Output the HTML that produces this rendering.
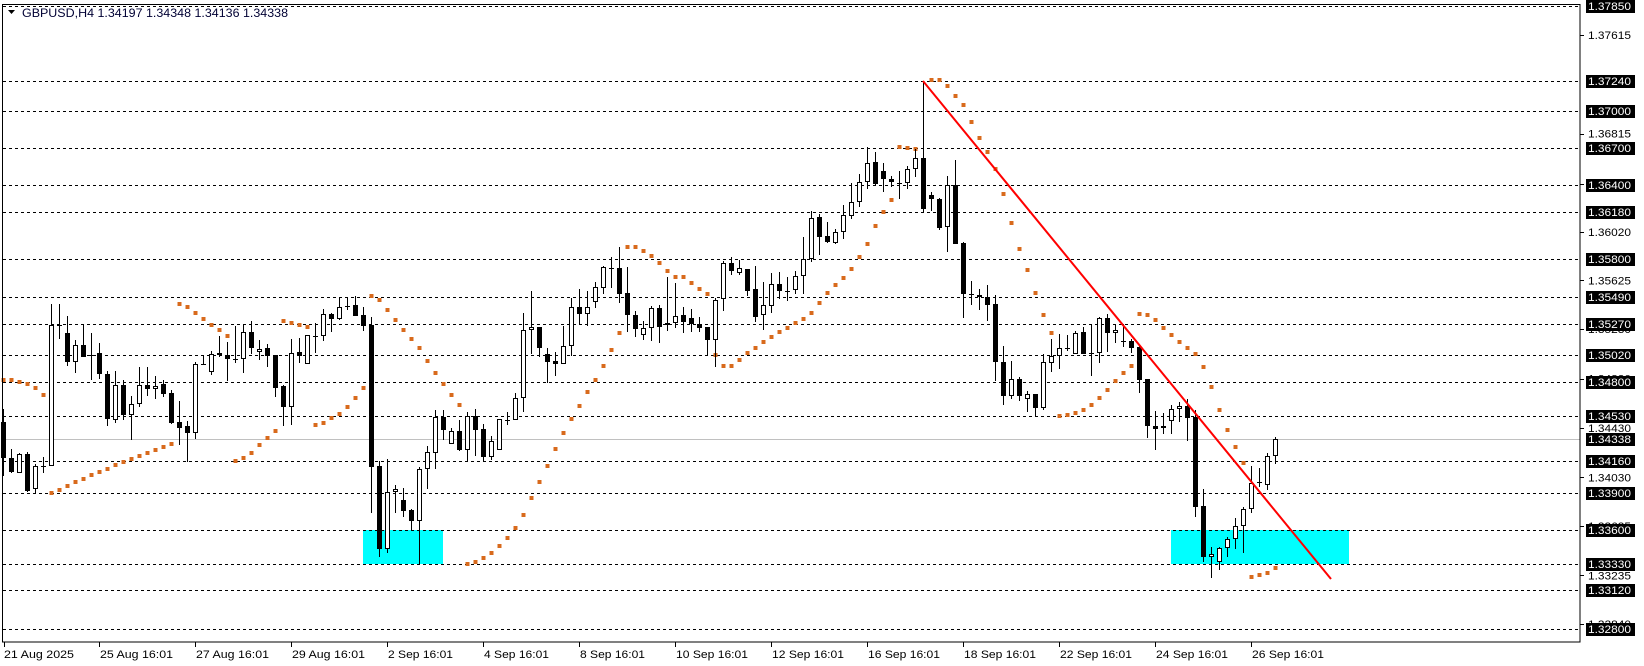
<!DOCTYPE html>
<html><head><meta charset="utf-8"><style>
html,body{margin:0;padding:0;background:#fff;}
svg{display:block;}
text{font-family:"Liberation Sans",sans-serif;}
</style></head><body>
<svg id="c" width="1644" height="666" viewBox="0 0 1644 666" xmlns="http://www.w3.org/2000/svg">
<rect x="0" y="0" width="1644" height="666" fill="#fff"/>
<rect x="363" y="530" width="80" height="34" fill="#00ffff"/>
<rect x="1171" y="530" width="178" height="34" fill="#00ffff"/>
<g id="grid" stroke="#000" stroke-width="1" stroke-dasharray="3,3" shape-rendering="crispEdges"></g>
<line x1="3" y1="439.5" x2="1580" y2="439.5" stroke="#c0c0c0" stroke-width="1"/>
<g id="dots" fill="#d86a1c"></g>
<g id="candles" shape-rendering="crispEdges"></g>
<line x1="923" y1="81" x2="1331" y2="579" stroke="#ff0000" stroke-width="2"/>
<rect x="2.5" y="4.5" width="1577.5" height="637.5" fill="none" stroke="#000" stroke-width="1" shape-rendering="crispEdges"/>
<polygon points="8,10 15,10 11.5,14" fill="#000"/>
<text x="22" y="17" font-size="12" fill="#000033" textLength="266" lengthAdjust="spacingAndGlyphs">GBPUSD,H4  1.34197 1.34348 1.34136 1.34338</text>
<g id="plain" font-size="11" fill="#000"></g>
<g id="boxes" font-size="11"></g>
<g id="dates" font-size="11" fill="#000">
<text x="4" y="658" textLength="70" lengthAdjust="spacingAndGlyphs">21 Aug 2025</text>
<text x="100" y="658" textLength="73" lengthAdjust="spacingAndGlyphs">25 Aug 16:01</text>
<text x="196" y="658" textLength="73" lengthAdjust="spacingAndGlyphs">27 Aug 16:01</text>
<text x="292" y="658" textLength="73" lengthAdjust="spacingAndGlyphs">29 Aug 16:01</text>
<text x="388" y="658" textLength="65" lengthAdjust="spacingAndGlyphs">2 Sep 16:01</text>
<text x="484" y="658" textLength="65" lengthAdjust="spacingAndGlyphs">4 Sep 16:01</text>
<text x="580" y="658" textLength="65" lengthAdjust="spacingAndGlyphs">8 Sep 16:01</text>
<text x="676" y="658" textLength="72" lengthAdjust="spacingAndGlyphs">10 Sep 16:01</text>
<text x="772" y="658" textLength="72" lengthAdjust="spacingAndGlyphs">12 Sep 16:01</text>
<text x="868" y="658" textLength="72" lengthAdjust="spacingAndGlyphs">16 Sep 16:01</text>
<text x="964" y="658" textLength="72" lengthAdjust="spacingAndGlyphs">18 Sep 16:01</text>
<text x="1060" y="658" textLength="72" lengthAdjust="spacingAndGlyphs">22 Sep 16:01</text>
<text x="1156" y="658" textLength="72" lengthAdjust="spacingAndGlyphs">24 Sep 16:01</text>
<text x="1252" y="658" textLength="72" lengthAdjust="spacingAndGlyphs">26 Sep 16:01</text>
</g>
<g id="ticks" stroke="#000" stroke-width="1" shape-rendering="crispEdges"></g>
</svg>
<script>
var NS="http://www.w3.org/2000/svg";
function el(p,t,a){var e=document.createElementNS(NS,t);for(var k in a)e.setAttribute(k,a[k]);p.appendChild(e);return e;}
function Y(p){return 6+(1.3785-p)*12337;}
var levels=["1.37850","1.37240","1.37000","1.36700","1.36400","1.36180","1.35800","1.35490","1.35270","1.35020","1.34800","1.34530","1.34160","1.33900","1.33600","1.33330","1.33120","1.32800"];
var plain=["1.37615","1.36815","1.36410","1.36020","1.35625","1.35230","1.34830","1.34430","1.34030","1.33635","1.33235","1.32840"];
var g=document.getElementById("grid"),pl=document.getElementById("plain"),bx=document.getElementById("boxes"),tk=document.getElementById("ticks");
levels.forEach(function(s){var y=Math.round(Y(+s))+0.5;el(g,"line",{x1:3,y1:y,x2:1580,y2:y});});
plain.forEach(function(s){var y=Y(+s);var t=el(pl,"text",{x:1588,y:y+4,textLength:43,lengthAdjust:"spacingAndGlyphs"});t.textContent=s;el(tk,"line",{x1:1580,y1:Math.round(y)+0.5,x2:1584,y2:Math.round(y)+0.5});});
levels.concat(["1.34338"]).forEach(function(s){var y=Y(+s);el(bx,"rect",{x:1586,y:Math.round(y)-6,width:49,height:13,fill:"#000"});var t=el(bx,"text",{x:1588,y:Math.round(y)+4,fill:"#fff",textLength:43,lengthAdjust:"spacingAndGlyphs"});t.textContent=s;});
[4,99,195,291,387,483,579,675,771,867,963,1059,1155,1251].forEach(function(x){el(tk,"line",{x1:x+0.5,y1:642,x2:x+0.5,y2:647});});
var C=[[409,476,422,458],[449,473,458,472],[453,473,473,454],[452,492,454,491],[464,493,489,466],[457,473,466,466],[304,466,466,325],[304,339,325,325],[316,366,333,362],[340,373,362,345],[324,357,345,357],[333,380,355,355],[343,379,353,374],[371,426,374,419],[371,423,420,385],[380,420,385,415],[396,440,415,404],[367,407,404,385],[367,396,385,389],[376,399,389,386],[380,397,384,394],[390,424,393,423],[401,445,422,428],[421,462,426,433],[362,439,433,364],[355,364,364,364],[351,375,372,354],[336,357,353,355],[342,381,355,359],[326,363,359,359],[324,373,359,332],[321,354,332,348],[340,360,352,349],[344,367,348,356],[355,397,355,388],[385,426,386,407],[339,425,407,353],[338,363,352,356],[335,364,364,335],[323,353,336,336],[309,341,336,314],[313,332,314,319],[297,320,319,307],[297,310,306,306],[296,316,305,316],[307,331,315,326],[317,513,325,467],[461,557,466,549],[459,553,549,492],[485,513,492,489],[488,517,500,511],[509,530,510,521],[467,565,521,469],[446,489,469,452],[410,469,453,417],[410,440,417,430],[428,444,444,431],[420,451,431,450],[412,462,450,416],[409,456,416,430],[424,462,429,457],[436,460,457,441],[419,450,450,419],[412,425,420,420],[393,420,420,398],[313,412,398,330],[291,354,330,327],[327,357,327,348],[348,383,354,362],[352,376,361,364],[326,364,364,346],[298,356,346,307],[289,325,307,314],[291,326,314,307],[282,308,302,287],[266,294,288,267],[257,288,268,268],[247,303,268,294],[267,332,293,315],[311,337,315,329],[321,340,335,328],[306,341,328,308],[305,343,308,327],[277,331,325,323],[283,328,323,316],[307,333,315,322],[309,332,318,324],[317,332,324,328],[327,356,327,340],[298,367,340,300],[261,311,299,263],[257,275,263,271],[260,275,273,268],[269,296,269,291],[266,322,289,317],[282,330,315,305],[273,313,306,284],[272,299,284,291],[277,301,291,291],[271,294,290,276],[237,294,276,259],[211,262,259,218],[214,255,217,237],[222,243,236,242],[229,244,243,232],[205,239,232,215],[183,219,216,202],[174,207,202,182],[147,189,182,163],[152,185,162,184],[163,192,171,179],[176,187,179,182],[171,199,183,183],[166,189,183,169],[149,177,169,158],[81,212,158,209],[192,211,195,199],[198,230,199,228],[176,252,227,185],[160,244,185,244],[242,318,243,294],[281,305,294,294],[289,310,295,297],[285,321,297,305],[295,381,304,362],[346,405,362,396],[361,399,396,379],[377,401,379,396],[391,412,399,394],[394,417,394,408],[354,410,408,362],[339,372,363,356],[334,369,356,348],[335,351,348,348],[331,354,354,333],[327,354,332,354],[324,376,353,353],[317,363,353,318],[314,352,318,333],[324,343,333,330],[324,347,341,341],[339,353,341,348],[345,393,347,380],[379,438,379,426],[411,450,426,429],[413,434,426,428],[405,434,421,409],[402,422,409,406],[399,441,406,418],[410,517,417,507],[489,562,506,557],[547,578,557,554],[547,570,562,548],[537,557,548,539],[518,549,539,526],[507,553,526,509],[466,513,509,483],[468,487,482,482],[453,490,485,456],[437,464,456,439]];
var cg=document.getElementById("candles");
C.forEach(function(c,k){var x=3+8*k;el(cg,"line",{x1:x+0.5,y1:c[0],x2:x+0.5,y2:c[1],stroke:"#000","stroke-width":1});
var t=Math.min(c[2],c[3]),b=Math.max(c[2],c[3]);
if(b-t<1){el(cg,"rect",{x:x-2,y:t,width:5,height:1,fill:"#000"});}
else if(c[2]<c[3]){el(cg,"rect",{x:x-2,y:t,width:5,height:b-t,fill:"#000"});}
else{el(cg,"rect",{x:x-1.5,y:t+0.5,width:4,height:b-t-1,fill:"#fff",stroke:"#000","stroke-width":1});}});
var D=[380,380,382,384,388,395,493,490,486,482,479,475,472,469,465,462,459,456,453,450,447,444,304,307,313,319,325,330,336,461,458,453,445,438,431,321,323,325,327,425,423,418,414,407,398,388,296,300,310,320,330,339,348,361,373,384,395,405,564,562,558,553,546,538,528,515,498,482,466,449,433,419,406,392,380,366,350,333,247,247,251,256,263,271,277,277,283,289,294,355,366,366,360,353,348,342,337,332,328,323,319,313,303,293,285,278,269,257,244,226,212,200,147,148,149,199,80,80,86,96,105,122,138,152,169,194,223,249,270,293,315,333,416,415,413,410,405,398,390,381,373,366,314,315,320,328,335,342,348,354,367,387,410,430,447,463,577,575,573,568];
var dg=document.getElementById("dots");
D.forEach(function(y,k){var x=3+8*k;el(dg,"rect",{x:x-1.5,y:y-2,width:4,height:4});});
</script>
</body></html>
